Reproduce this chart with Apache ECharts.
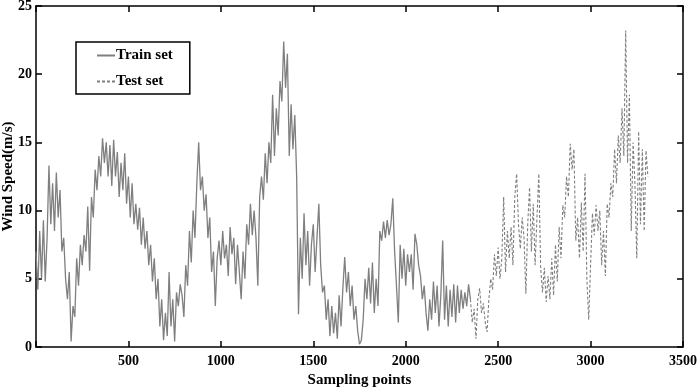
<!DOCTYPE html>
<html>
<head>
<meta charset="utf-8">
<script src="https://cdn.jsdelivr.net/npm/echarts@6/dist/echarts.min.js"></script>
<style>
  html, body { margin: 0; padding: 0; background: #fff; }
  #chart { width: 700px; height: 387px; }
</style>
</head>
<body>
<div id="chart"></div>
<script>
// sampling step between stored readings
const step = 10;

// Train set: wind speed every 10 sampling points, from point 0
const trainSpeed = [
  7, 4.2, 8.5, 5, 9.3, 4.8, 8, 13.3, 9, 12,
  8.5, 12.8, 9.5, 11.5, 7, 8, 5, 3.5, 5.5, 0.4,
  3, 2.2, 6.5, 4.5, 7.5, 6, 8.2, 7, 10.3, 5.6,
  11, 9.5, 13, 11.5, 14, 12.5, 15.3, 13.5, 15, 12.5,
  14.8, 11.8, 15.2, 12.5, 14.3, 11, 13.5, 11.5, 14.2, 10.5,
  12.5, 9.5, 12, 9, 10.5, 8.6, 10.2, 7.5, 9.5, 7.2,
  8.5, 6, 7.5, 4.8, 6.5, 3.5, 5, 1.5, 3.5, 0.5,
  2.5, 0.8, 5.5, 1.5, 3.5, 0.4, 4, 3, 4.6, 3.8,
  2.2, 6, 4.5, 8.5, 6.2, 10, 8, 12, 15, 11.5,
  12.5, 10, 11.2, 8, 9.5, 5.5, 7, 3, 6.5, 7.8,
  6, 8.5, 6.5, 7.5, 5.2, 8.8, 6.8, 8, 4.6, 7.5,
  5.5, 3.5, 7, 5, 9, 7.5, 10.5, 8.2, 10, 8,
  4.5, 11, 12.5, 10.8, 14.2, 12, 15, 13.5, 18.5, 14,
  17.5, 15.5, 19.5, 18, 22.4, 19, 21.5, 14, 17.8, 14.5,
  17, 12.5, 2.4, 8, 5, 9.8, 6, 8.5, 4.5, 7.5,
  9, 5.5, 8, 10.5, 6, 4, 4.5, 2, 3.5, 0.8,
  3, 1, 2.5, 0.6, 3.8, 1.5, 4.3, 6.6, 4, 5.5,
  3, 4.5, 2, 3, 1.2, 0.2, 0.5, 2, 5, 3.5,
  5.8, 3.2, 6.2, 2.5, 5, 3, 8.5, 7.8, 9.2, 8,
  9.3, 8.2, 9, 10.9, 7, 4.5, 1.8, 7.5, 5, 7.2,
  4.5, 6.8, 5.5, 6.8, 4.2, 8.3, 7.5, 6, 5.2, 3.5,
  4.5, 2.5, 1.2, 3.5, 2, 4.8, 2.5, 4.5, 1.5, 3.8,
  7.8, 2, 4.5, 1.5, 4.2, 2.2, 4.6, 1.8, 4.5, 2.5,
  4.2, 2.8, 4, 3, 4.6, 3.5
];

// Test set: wind speed every 10 sampling points, from point 2350
const testStart = 2350;
const testSpeed = [
  3.5, 1.8, 2.8, 0.6, 3.5, 4.3, 2.5, 3.2, 1.8, 1.1,
  3.5, 5, 4.2, 6.8, 5.2, 7.3, 5, 6.5, 11, 5.5,
  8.5, 6.5, 8.8, 6, 11, 12.7, 9, 7.2, 9.5, 8,
  3.9, 9, 11.7, 7, 10.5, 6, 9.5, 12.7, 5.8, 4,
  5.8, 3.3, 5.2, 3.5, 6.5, 3.8, 7.5, 4.8, 8.8, 6.5,
  10.4, 9.5, 12.5, 11, 14.9, 13, 14.5, 7.8, 9.5, 6.5,
  10.6, 7, 12.7, 5, 2, 6, 9.8, 8.2, 10.4, 8.5,
  10, 6, 8.5, 5.2, 10.5, 9.5, 12, 11, 14.5, 12,
  15.5, 13.5, 17.5, 14, 23.2, 13.5, 18.5, 8.5, 15, 12,
  6.5, 15.8, 9, 14.5, 8.5, 14.4, 12.5
];

const xTicks = [0, 500, 1000, 1500, 2000, 2500, 3000, 3500];
const yTicks = [0, 5, 10, 15, 20, 25];

const trainData = trainSpeed.map((v, i) => [i * step, v]);
const testData = testSpeed.map((v, i) => [testStart + i * step, v]);

const font = 'Liberation Serif';
const lineColor = '#7f7f7f';

const chart = echarts.init(document.getElementById('chart'));

// box axes: ticks inside, no grid lines
const baseAxis = {
  type: 'value',
  axisLine: { show: true, onZero: false, lineStyle: { color: '#000', width: 1.5 } },
  axisTick: { show: true, inside: true, length: 6, lineStyle: { color: '#000', width: 1.5 } },
  splitLine: { show: false }
};
const labelStyle = { fontFamily: font, fontWeight: 'bold', fontSize: 14, color: '#000' };
const nameStyle = { fontFamily: font, fontWeight: 'bold', fontSize: 15, color: '#000' };

const option = {
  animation: false,
  backgroundColor: '#fff',
  grid: { left: 36, right: 17, top: 6, bottom: 40, outerBoundsMode: 'none', containLabel: false },
  legend: {
    left: 76,
    top: 42,
    orient: 'vertical',
    borderColor: '#000',
    borderWidth: 1.5,
    borderRadius: 0,
    padding: [6, 17, 5, 20],
    itemGap: 11,
    itemWidth: 18,
    itemHeight: 14,
    // hide the point marker, keep only the line sample
    itemStyle: { color: 'rgba(0,0,0,0)', borderWidth: 0, opacity: 0 },
    textStyle: { fontFamily: font, fontWeight: 'bold', fontSize: 15, color: '#000', padding: [0, 0, 0, -4] },
    data: ['Train set', 'Test set']
  },
  xAxis: [
    Object.assign({}, baseAxis, {
      min: xTicks[0],
      max: xTicks[xTicks.length - 1],
      interval: 500,
      name: 'Sampling points',
      nameLocation: 'middle',
      nameGap: 25,
      nameTextStyle: nameStyle,
      axisLabel: Object.assign({ margin: 7, formatter: v => (v === 0 ? '' : String(v)) }, labelStyle)
    }),
    Object.assign({}, baseAxis, {
      position: 'top',
      min: xTicks[0], max: xTicks[xTicks.length - 1], interval: 500,
      axisLabel: { show: false }
    })
  ],
  yAxis: [
    Object.assign({}, baseAxis, {
      min: yTicks[0],
      max: yTicks[yTicks.length - 1],
      interval: 5,
      name: 'Wind Speed(m/s)',
      nameLocation: 'middle',
      nameGap: 20,
      nameMoveOverlap: false,
      nameTextStyle: nameStyle,
      axisLabel: Object.assign({ margin: 4 }, labelStyle)
    }),
    Object.assign({}, baseAxis, {
      position: 'right',
      min: yTicks[0], max: yTicks[yTicks.length - 1], interval: 5,
      axisLabel: { show: false }
    })
  ],
  series: [
    {
      name: 'Train set',
      type: 'line',
      data: trainData,
      showSymbol: false,
      symbol: 'none',
      sampling: null,
      lineStyle: { color: lineColor, width: 1.3 },
      itemStyle: { color: lineColor }
    },
    {
      name: 'Test set',
      type: 'line',
      data: testData,
      showSymbol: false,
      symbol: 'none',
      lineStyle: { color: lineColor, width: 1.1, type: [3, 2] },
      itemStyle: { color: lineColor }
    }
  ]
};

chart.setOption(option);
</script>
</body>
</html>
